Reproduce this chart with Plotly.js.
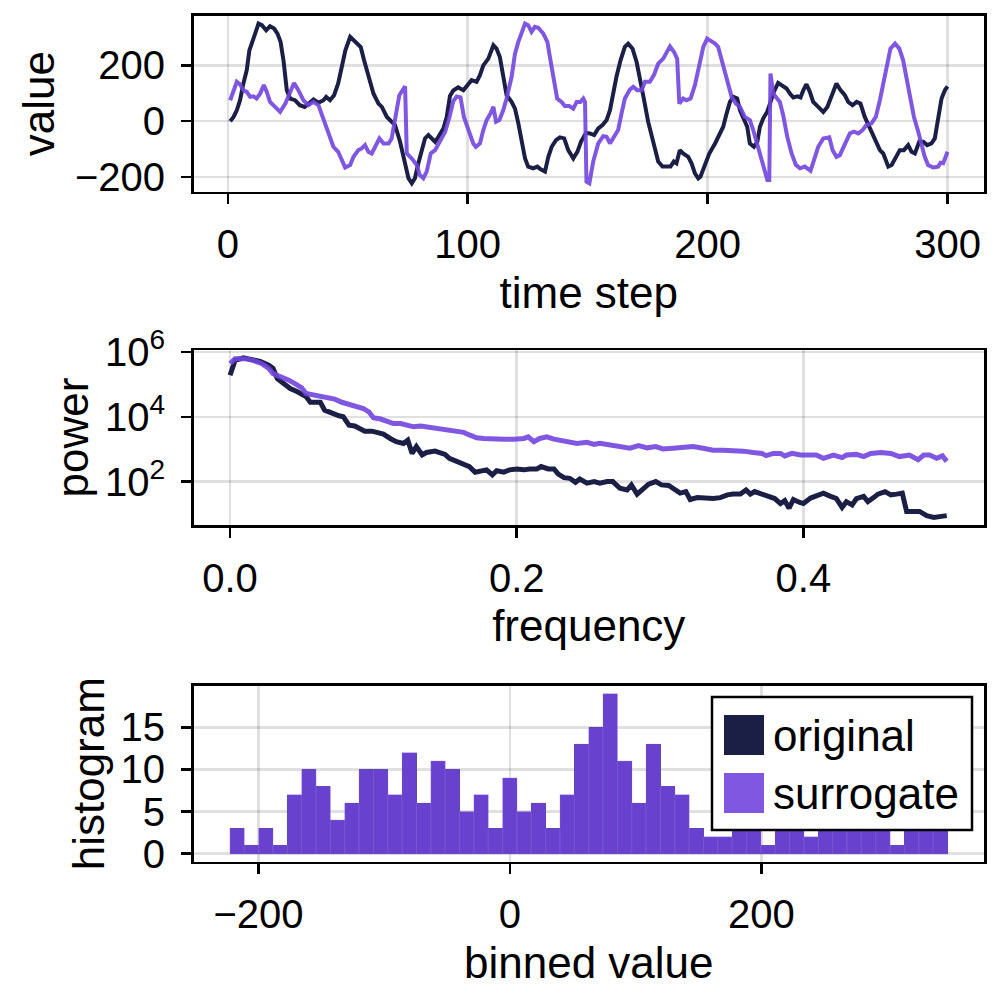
<!DOCTYPE html>
<html>
<head>
<meta charset="utf-8">
<script src="https://cdn.plot.ly/plotly-3.0.1.min.js"></script>
<style>html,body{margin:0;padding:0;background:#fff}#chart{width:1000px;height:1000px}</style>
</head>
<body>
<div id="chart"></div>
<script>
// ---------- DATA ----------
const seriesNames = ["original", "surrogate"];

// time series
const origT = [1,2.4,3.75,5.1,6.5,7.9,9,10,11.4,12.8,14.2,16,17.6,19.3,20.7,22,23.2,24.6,26,28,30,32,33.6,35.7,37.8,39.9,41,42.6,44.3,46,47.5,49,51,52.4,53.75,55.4,56.8,58.6,60.7,62.8,64.2,66.3,67.6,69.7,71.8,73.9,75.3,76.7,78,79.4,80.8,82.2,83.6,85,86.4,87.8,89.9,91.25,92.6,94,96,
  98.2,99.5,101.6,103.7,105.1,106.5,108.6,110.7,112,113.4,114.8,116.2,118.3,119.7,121.1,122.5,123.9,125.2,127.3,129,130.4,132.2,133.6,135,136.8,138.4,140.2,141.9,144,145.7,147.2,149.3,150.9,152.7,154.4,156.2,157.9,159.3,160.6,162,163.7,165.5,166.9,168.7,170.4,172,173.4,175.2,176.6,178,179.4,181.2,182.9,184.5,185.9,187,188.4,189.8,191.9,193.3,194.7,196.1,197,198.9,200.7,
  203.1,205.1,206.5,207.9,209.3,210.7,212.3,213.5,214.9,216.5,217.6,219.3,220.7,221.8,223.2,224.8,226,227.6,229.4,230.8,232.9,234.3,235.7,237.4,238.7,239.9,241.2,242.6,244,246.1,248.2,249.9,251.7,253.7,255.4,257.2,258.6,260.4,262.1,263.7,265.5,267.6,269.7,271.8,273.2,275.3,276.7,278.5,280.1,281.8,283.6,285,286.4,288.2,289.9,291.5,293.3,294.7,296.1,297.5,298.9,300];
const origV = [0,15,39,75,135,183,254,284,314,350,344,326,340,332,314,284,218,111,81,75,57,51,63,78,66,75,87,75,93,135,194,254,302,290,278,266,218,159,99,63,51,15,4,-14,-74,-152,-205,-223,-205,-152,-104,-62,-50,-62,-74,-56,-26,15,90,110,121,
  111,123,147,141,165,200,224,272,260,230,165,93,69,45,-8,-74,-134,-163,-169,-163,-173,-181,-128,-92,-68,-58,-62,-104,-134,-110,-74,-42,-44,-50,-26,-14,4,39,99,159,218,266,278,260,212,147,81,-2,-50,-104,-145,-163,-163,-163,-145,-151,-104,-116,-128,-151,-187,-205,-199,-151,-116,
  -80,-44,-20,27,69,87,81,39,15,-20,-80,-92,-74,-20,10,33,63,105,137,129,117,99,85,89,85,111,132,105,69,51,33,51,87,135,111,93,69,57,69,63,15,-26,-68,-104,-116,-163,-157,-128,-104,-104,-86,-110,-116,-74,-74,-86,-80,-62,15,81,111,125];

const surrT = [1,2.4,3.75,5.1,6.5,7.9,9.3,10.7,12,13.5,15,16.25,17.6,19.7,21.8,24,26,27.6,29.4,31.5,33.6,35.7,37.8,39.9,42,44,46,47.5,48.9,51,52.4,54.4,55.8,57.2,58.6,60,61.4,63.2,64.9,67,68.3,69.7,71.5,73.9,74.6,76.7,78.75,80,81.5,82.9,84.6,86.4,88.5,90.6,92.4,94,
  95.4,97,98.4,100.2,102.3,103.4,105.1,106.5,107.9,109.5,110.7,111.8,113.2,114.8,116.2,118.3,119.7,121.1,122.5,123.9,125.2,126.6,128,129.4,131.5,133.2,134.5,135.9,137.3,139.1,140.5,142.3,144,145.4,147,148.2,148.9,149.5,150.7,152.3,154.4,156.5,157.9,159.3,160.9,162.7,164.1,165.5,167.6,169,170.7,172.5,173.9,175.9,177.6,179.4,181.5,182.9,184.3,186,187.3,188.2,189.8,191.2,192.9,194.7,196.5,198.2,199.8,
  203.1,204.4,205.8,207.2,208.6,210,211.8,213.5,215.5,217.6,219,220.4,221.8,223.2,224.9,225.7,226.2,227.3,228.7,230.1,231.5,233.2,235,236.8,238.5,240.5,242.9,244.7,246.1,248.2,250.7,252.1,253.7,255.1,257.2,259.3,261,262.8,264.6,266.2,268.3,270.1,271.8,273.2,274.6,276.2,278.1,279.9,281.5,282.9,284.3,286,287.8,289.2,290.5,291.9,294,296.1,297.1,298.2,299.3,300];
const surrV = [75,111,141,132,111,105,87,89,81,99,129,105,69,51,33,63,105,137,111,75,57,69,57,4,-44,-92,-110,-140,-166,-157,-128,-104,-98,-86,-110,-116,-92,-62,-80,-80,-62,15,93,125,-116,-134,-157,-193,-205,-181,-116,-104,-74,-38,15,72,
  88,85,15,-26,-80,-92,-80,-32,4,27,51,-2,4,39,81,159,242,284,314,350,344,320,338,335,314,284,218,141,81,69,54,54,45,69,69,81,69,-217,-223,-145,-80,-54,-56,-80,-56,-32,27,81,113,123,111,111,141,141,165,206,224,248,268,248,224,63,81,75,81,129,206,266,296,
  278,266,218,171,123,87,63,51,15,4,-32,-74,-116,-163,-211,-211,171,99,85,69,21,-56,-116,-157,-169,-163,-178,-134,-92,-62,-58,-104,-128,-122,-80,-44,-38,-44,-32,-14,-8,15,75,135,206,260,278,260,218,159,93,15,-38,-80,-128,-157,-166,-163,-149,-151,-128,-110];

// power spectra
const origF = [0,0.0035,0.0093,0.015,0.021,0.027,0.030,0.033,0.037,0.042,0.047,0.050,0.053,0.056,0.059,0.063,0.066,0.071,0.076,0.079,0.083,0.087,0.091,0.094,0.099,0.102,0.107,0.112,0.116,0.121,0.124,0.127,0.130,0.134,0.137,0.143,0.147,0.150,0.153,0.158,0.163,0.167,0.171,0.176,0.179,0.183,0.186,0.191,0.195,0.200,0.205,0.209,0.214,0.217,0.222,0.226,0.229,0.233,0.237,0.241,0.244,0.249,0.254,0.258,0.263,0.267,0.272,0.277,0.280,0.284,0.287,0.292,0.297,0.301,0.306,0.311,0.314,0.318,0.321,0.326,0.331,0.337,0.342,0.347,0.351,0.356,0.360,0.363,0.366,0.371,0.376,0.380,0.384,0.387,0.390,0.393,0.397,0.400,0.405,0.409,0.414,0.419,0.423,0.427,0.430,0.434,0.437,0.442,0.445,0.449,0.452,0.457,0.461,0.465,0.469,0.472,0.477,0.481,0.486,0.491,0.495,0.500];
const origP = [190000,550000,660000,590000,510000,390000,310000,150000,107000,74000,59000,49000,42000,28000,29000,28000,16000,12600,10700,10000,5500,5200,4400,3600,3600,3300,2900,2100,1700,1500,1900,740,1200,660,790,870,740,690,520,420,360,290,195,215,230,160,215,195,230,245,230,245,245,290,245,245,170,132,126,95,120,89,100,89,100,100,62,55,79,41,55,83,100,79,76,55,44,49,28,32,30,30,32,39,41,41,55,41,49,41,35,30,21,26,15,28,23,21,31,35,44,35,30,16,24,19,30,35,24,32,41,49,39,41,44,12,12.6,12,8.9,7.8,8.3,8.9];

const surrF = [0,0.0035,0.010,0.016,0.022,0.027,0.030,0.036,0.041,0.045,0.050,0.053,0.058,0.064,0.069,0.073,0.078,0.084,0.088,0.093,0.097,0.100,0.105,0.109,0.114,0.119,0.123,0.128,0.133,0.137,0.142,0.147,0.152,0.158,0.163,0.167,0.172,0.177,0.184,0.191,0.198,0.205,0.208,0.212,0.216,0.221,0.226,0.230,0.235,0.242,0.249,0.254,0.258,0.263,0.267,0.273,0.279,0.285,0.291,0.297,0.302,0.309,0.316,0.323,0.330,0.337,0.344,0.351,0.358,0.365,0.371,0.374,0.379,0.384,0.387,0.392,0.398,0.405,0.409,0.414,0.421,0.427,0.430,0.437,0.442,0.447,0.454,0.461,0.467,0.474,0.480,0.484,0.488,0.493,0.497,0.500];
const surrP = [440000,620000,620000,550000,440000,310000,214000,170000,135000,107000,78000,52000,47000,42000,35000,35000,28000,23000,20000,18000,14000,9300,8500,7400,6200,6200,5800,4900,5200,4900,4400,3900,3900,3500,3300,2750,2240,2140,2040,2040,2040,2140,2400,1700,2140,2400,2040,1900,1780,1510,1620,1410,1510,1410,1290,1200,1070,1290,1100,1200,1020,1070,1100,1200,1070,930,930,930,870,790,740,630,740,740,620,740,660,660,660,520,660,550,660,690,590,740,790,740,590,660,470,660,660,520,620,420];

// histogram (50 bins)
const binLeft = -222.7;
const binWidth = 11.414;
const origCounts = [3,1,3,1,7,10,8,4,6,10,10,7,12,6,11,10,5,7,3,9,5,6,3,7,13,15,19,11,6,13,8,7,3,2,2,3,3,1,3,3,2,3,3,3,3,3,1,3,3,3];
const surrCounts = [3,1,3,1,7,10,8,4,6,10,10,7,12,6,11,10,5,7,3,9,5,6,3,7,13,15,19,11,6,13,8,7,3,2,2,3,3,1,3,3,2,3,3,3,3,3,1,3,3,3];

// tick labels
const tsXTicks = [0,100,200,300];
const tsYTicks = [-200,0,200];
const psXTicks = [0,0.2,0.4];
const psYTicks = [1e2,1e4,1e6];
const psYTickText = ["10<sup>2</sup>","10<sup>4</sup>","10<sup>6</sup>"];
const hXTicks = [-200,0,200];
const hYTicks = [0,5,10,15];

// ---------- STYLE ----------
const NAVY = "#1b1f45";
const PURPLE = "rgba(113,69,221,0.9)";
const FONT = "Liberation Sans, Arial, sans-serif";
const binCenters = origCounts.map((_, i) => binLeft + (i + 0.5) * binWidth);

const traces = [
  {x: origT, y: origV, xaxis: "x", yaxis: "y", type: "scatter", mode: "lines", name: seriesNames[0], line: {color: NAVY, width: 4}, showlegend: false},
  {x: surrT, y: surrV, xaxis: "x", yaxis: "y", type: "scatter", mode: "lines", name: seriesNames[1], line: {color: PURPLE, width: 4}, showlegend: false},
  {x: origF, y: origP, xaxis: "x2", yaxis: "y2", type: "scatter", mode: "lines", name: seriesNames[0], line: {color: NAVY, width: 5}, showlegend: false},
  {x: surrF, y: surrP, xaxis: "x2", yaxis: "y2", type: "scatter", mode: "lines", name: seriesNames[1], line: {color: PURPLE, width: 5}, showlegend: false},
  {x: binCenters, y: origCounts, width: binWidth, xaxis: "x3", yaxis: "y3", type: "bar", name: seriesNames[0], marker: {color: NAVY, line: {width: 0}}, showlegend: false},
  {x: binCenters, y: surrCounts, width: binWidth, xaxis: "x3", yaxis: "y3", type: "bar", name: seriesNames[1], marker: {color: PURPLE, line: {width: 0.6, color: "rgba(150,120,230,0.6)"}}, showlegend: false}
];

function ax(extra) {
  return Object.assign({
    showline: true, mirror: true, linecolor: "#000", linewidth: 2.5,
    ticks: "outside", ticklen: 10, tickwidth: 2.5, tickcolor: "#000",
    showgrid: true, gridcolor: "rgba(0,0,0,0.12)", gridwidth: 2.5,
    zeroline: false, tickfont: {family: FONT, size: 40, color: "#000"},
    fixedrange: true
  }, extra);
}
const titleFont = {family: FONT, size: 44, color: "#000"};
const XD = [0.1935, 0.984];

const layout = {
  width: 1000, height: 1000,
  margin: {l: 0, r: 0, t: 0, b: 0, pad: 0},
  paper_bgcolor: "#fff", plot_bgcolor: "#fff",
  font: {family: FONT, size: 40, color: "#000"},
  showlegend: false,
  barmode: "overlay", bargap: 0,
  xaxis: ax({domain: XD, anchor: "y", range: [-14.3, 315.2], tickvals: tsXTicks, ticklabelstandoff: 6,
    title: {text: "time step", font: titleFont, standoff: 12}}),
  yaxis: ax({domain: [0.8083, 0.9843], anchor: "x", range: [-253, 378], tickvals: tsYTicks, ticklabelstandoff: 8,
    title: {text: "value", font: titleFont, standoff: 7}}),
  xaxis2: ax({domain: XD, anchor: "y2", range: [-0.0255, 0.526], tickvals: psXTicks, tickformat: ".1f", ticklabelstandoff: 6,
    title: {text: "frequency", font: titleFont, standoff: 12}}),
  yaxis2: ax({domain: [0.475, 0.65], anchor: "x2", type: "log", range: [0.66, 6.06], tickvals: psYTicks, ticktext: psYTickText, ticklabelstandoff: 8,
    title: {text: "power", font: titleFont, standoff: 3}}),
  xaxis3: ax({domain: XD, anchor: "y3", range: [-251.7, 377], tickvals: hXTicks, ticklabelstandoff: 6,
    title: {text: "binned value", font: titleFont, standoff: 12}}),
  yaxis3: ax({domain: [0.1383, 0.3143], anchor: "x3", range: [-0.95, 19.95], tickvals: hYTicks, ticklabelstandoff: 8,
    title: {text: "histogram", font: titleFont, standoff: 2}}),
  shapes: [
    {type: "rect", xref: "paper", yref: "paper", x0: 0.712, x1: 0.972, y0: 0.170, y1: 0.303, fillcolor: "#fff", line: {color: "#000", width: 2.5}, layer: "above"},
    {type: "rect", xref: "paper", yref: "paper", x0: 0.724, x1: 0.764, y0: 0.245, y1: 0.285, fillcolor: NAVY, line: {width: 0}, layer: "above"},
    {type: "rect", xref: "paper", yref: "paper", x0: 0.724, x1: 0.764, y0: 0.187, y1: 0.227, fillcolor: "rgb(127,87,224)", line: {width: 0}, layer: "above"}
  ],
  annotations: [
    {xref: "paper", yref: "paper", x: 0.771, y: 0.265, xanchor: "left", yanchor: "middle", text: seriesNames[0], showarrow: false, font: {family: FONT, size: 44, color: "#000"}},
    {xref: "paper", yref: "paper", x: 0.771, y: 0.207, xanchor: "left", yanchor: "middle", text: seriesNames[1], showarrow: false, font: {family: FONT, size: 44, color: "#000"}}
  ]
};

Plotly.newPlot("chart", traces, layout, {displayModeBar: false, staticPlot: true});
</script>
</body>
</html>
